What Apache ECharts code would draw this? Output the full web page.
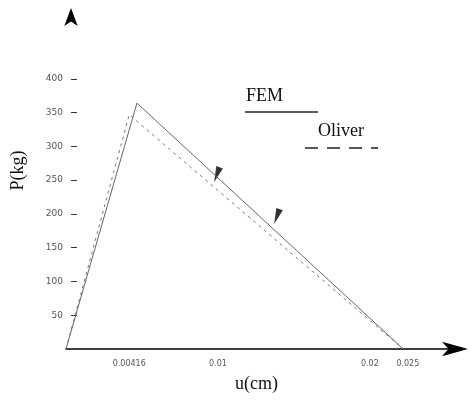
<!DOCTYPE html>
<html><head><meta charset="utf-8">
<script src="https://cdn.jsdelivr.net/npm/echarts@6/dist/echarts.min.js"></script>
<style>html,body{margin:0;padding:0;background:#fff}#c{width:473px;height:408px}</style>
</head><body><div id="c"></div>
<script>
// Data (u in cm, P in kg)
const femData = [[0, 0], [0.00467, 364], [0.0222, 0]];
const oliverData = [[0, 0], [0.00416, 347], [0.0222, 0]];
const arrowMarks = [[0.00993, 258], [0.01388, 196]];
const yTickValues = [50, 100, 150, 200, 250, 300, 350, 400];
const xTickValues = [0.00416, 0.01, 0.02, 0.0225];
const xTickTexts = ['0.00416', '0.01', '0.02', '0.025'];

const chart = echarts.init(document.getElementById('c'));
const serif = 'Liberation Serif';
chart.setOption({
  animation: false,
  grid: {left: 66, right: 12, top: 18, bottom: 59, containLabel: false},
  xAxis: {
    type: 'value', min: 0, max: 0.026,
    name: 'u(cm)', nameLocation: 'middle', nameGap: 26,
    nameTextStyle: {fontFamily: serif, fontSize: 18, color: '#111', padding: [0, 14, 0, 0]},
    axisLine: {show: true, symbol: ['none', 'arrow'], symbolSize: [11, 26], symbolOffset: [0, 7],
      lineStyle: {color: '#000', width: 1.6}},
    axisTick: {show: false},
    splitLine: {show: false},
    axisLabel: {customValues: xTickValues, fontSize: 8, color: '#555', margin: 11,
      fontFamily: 'DejaVu Sans',
      formatter: v => { const i = xTickValues.findIndex(t => Math.abs(t - v) < 1e-9); return i >= 0 ? xTickTexts[i] : ''; }}
  },
  yAxis: {
    type: 'value', min: 0, max: 490, offset: -5,
    name: 'P(kg)', nameLocation: 'middle', nameGap: 44,
    nameTextStyle: {fontFamily: serif, fontSize: 18, color: '#111', padding: [0, 0, 0, 26]},
    axisLine: {show: true, symbol: ['none', 'arrow'], symbolSize: [10, 18], symbolOffset: [0, 10],
      lineStyle: {color: '#000', width: 0}},
    axisTick: {show: true, inside: true, length: 6, customValues: yTickValues, lineStyle: {color: '#333', width: 1}},
    splitLine: {show: false},
    axisLabel: {customValues: yTickValues, fontSize: 9, color: '#555', margin: 8, fontFamily: 'DejaVu Sans'}
  },
  series: [
    {name: 'FEM', type: 'line', data: femData, symbol: 'none',
      lineStyle: {color: '#666', width: 1, type: 'solid'}},
    {name: 'Oliver', type: 'line', data: oliverData, symbol: 'none',
      lineStyle: {color: '#777', width: 1, type: [3, 4]}},
    {name: 'arrows', type: 'scatter', data: arrowMarks, symbol: 'triangle',
      symbolSize: [7, 16], symbolRotate: 160, itemStyle: {color: '#000'}}
  ],
  graphic: [
    {type: 'text', left: 246, top: 87, style: {text: 'FEM', font: '18px "Liberation Serif"', fill: '#111'}},
    {type: 'line', shape: {x1: 245, y1: 112, x2: 318, y2: 112}, style: {stroke: '#222', lineWidth: 1.4}},
    {type: 'text', left: 318, top: 122, style: {text: 'Oliver', font: '18px "Liberation Serif"', fill: '#111'}},
    {type: 'line', shape: {x1: 305, y1: 148, x2: 378, y2: 148}, style: {stroke: '#222', lineWidth: 1.4, lineDash: [13, 9]}}
  ]
});
</script></body></html>
